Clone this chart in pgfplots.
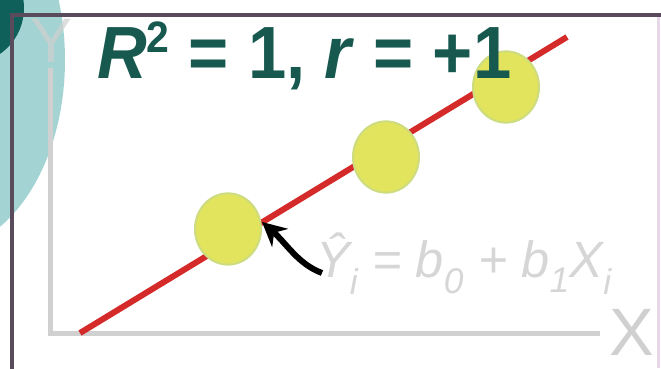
\documentclass[border=0pt]{standalone}
\usepackage{pgfplots}
\pgfplotsset{compat=1.18}
\usepackage{fontspec}
\setmainfont{Liberation Sans}
\usetikzlibrary{arrows.meta}

\definecolor{boxline}{HTML}{594A5C}
\definecolor{boxright}{HTML}{E6D8E6}
\definecolor{tealdark}{HTML}{0F5F5A}
\definecolor{teallight}{HTML}{A3D3D3}
\definecolor{titleteal}{HTML}{17584F}
\definecolor{axisgrey}{HTML}{D0D0D0}
\definecolor{eqgrey}{HTML}{D6D6D6}
\definecolor{fitred}{HTML}{D42A2A}
\definecolor{dotfill}{HTML}{E2E45E}
\definecolor{dotedge}{HTML}{CDDC80}

\begin{document}
\begin{tikzpicture}
\begin{axis}[
  scale only axis, width=661pt, height=368pt,
  xmin=0, xmax=661, ymin=0, ymax=368,
  hide axis, clip=true,
]
% decorative teal shapes at the left edge
\fill[teallight] (-60,308) ellipse[x radius=125pt, y radius=190pt];
\fill[tealdark] (-32,360) circle[radius=56pt];

% Y label and the two light axis lines
\node[anchor=base west, text=axisgrey, opacity=0.7, font=\fontsize{63}{63}\selectfont] at (27,306) {Y};
\draw[axisgrey, line width=5pt] (50,300) -- (50,35) -- (600,35);
\node[anchor=base west, text=axisgrey, font=\fontsize{67}{67}\selectfont] at (606,13) {X};

% frame
\draw[boxright, line width=3pt] (658,0) -- (658,353);
\draw[boxline, line width=4pt] (12,-5) -- (12,353) -- (661,353);

% regression line and observations
\addplot[fitred, line width=6pt] coordinates {(80,35) (567,331)};
\addplot[only marks, mark=*, mark size=33pt,
  mark options={fill=dotfill, draw=dotedge, line width=2pt, yscale=1.08}]
  coordinates {(228,139) (386,211) (506,281)};

% pointer to the fitted line
\draw[black, line width=6pt, -{Stealth[length=24pt, width=24pt]}]
  (322,95) .. controls (298,104) and (287,124) .. (262,146);

% fitted equation
\node[anchor=base west, text=eqgrey, inner sep=0pt] at (316,91)
  {\scalebox{0.99}[1]{\fontsize{51}{51}\selectfont\itshape
   Ŷ\textsubscript{i} = b\textsubscript{0} + b\textsubscript{1}X\textsubscript{i}}};
\end{axis}

% heading, set above the markers
\node[anchor=base west, text=titleteal, inner sep=0pt]
  at ([shift={(97pt,290pt)}]current axis.south west)
  {\scalebox{0.93}[1]{\fontsize{74}{74}\selectfont\bfseries
   \textit{R}\raisebox{26pt}{\fontsize{44}{44}\selectfont 2} = 1, \textit{r} = +1}};

\pgfresetboundingbox
\path[use as bounding box] (current axis.south west) rectangle (current axis.north east);
\end{tikzpicture}
\end{document}
